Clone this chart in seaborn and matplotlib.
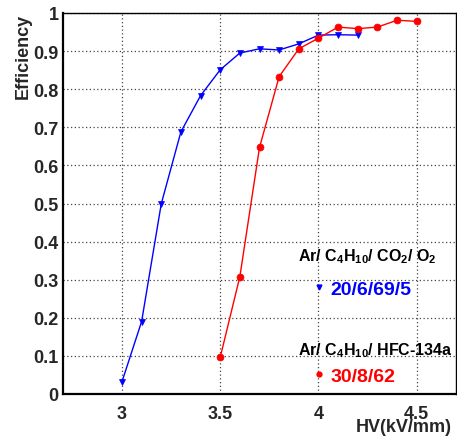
import matplotlib
matplotlib.use("Agg")
import matplotlib.pyplot as plt
from matplotlib.lines import Line2D
from matplotlib.ticker import MultipleLocator
import pandas as pd
import seaborn as sns

# ---- data ----
hv_a = [3.0, 3.1, 3.2, 3.3, 3.4, 3.5, 3.6, 3.7, 3.8, 3.9, 4.0, 4.1, 4.2]
eff_a = [0.032, 0.19, 0.499, 0.688, 0.783, 0.851, 0.895, 0.906, 0.903, 0.919, 0.942, 0.943, 0.942]
hv_b = [3.5, 3.6, 3.7, 3.8, 3.9, 4.0, 4.1, 4.2, 4.3, 4.4, 4.5]
eff_b = [0.096, 0.308, 0.647, 0.833, 0.906, 0.934, 0.963, 0.959, 0.963, 0.981, 0.978]
gas_a = "Ar/ C$_\\mathbf{4}$H$_\\mathbf{10}$/ CO$_\\mathbf{2}$/ O$_\\mathbf{2}$"
mix_a = "20/6/69/5"
gas_b = "Ar/ C$_\\mathbf{4}$H$_\\mathbf{10}$/ HFC-134a"
mix_b = "30/8/62"
x_ticks = [3.0, 3.5, 4.0, 4.5]
x_ticklabels = ["3", "3.5", "4", "4.5"]
y_ticks = [0, 0.1, 0.2, 0.3, 0.4, 0.5, 0.6, 0.7, 0.8, 0.9, 1.0]
y_ticklabels = ["0", "0.1", "0.2", "0.3", "0.4", "0.5", "0.6", "0.7", "0.8", "0.9", "1"]

sns.set_style("white")
plt.rcParams["font.family"] = ["Liberation Sans", "DejaVu Sans"]
plt.rcParams["font.weight"] = "bold"
plt.rcParams["mathtext.fontset"] = "custom"
plt.rcParams["mathtext.rm"] = "Liberation Sans:bold"
plt.rcParams["mathtext.bf"] = "Liberation Sans:bold"

W, H = 457, 439
fig = plt.figure(figsize=(W / 100, H / 100), dpi=100)
fig.patch.set_facecolor("white")
L, R, T, B = 63, 456, 14, 395
ax = fig.add_axes([L / W, 1 - B / H, (R - L) / W, (B - T) / H])

df_a = pd.DataFrame({"hv": hv_a, "eff": eff_a})
df_b = pd.DataFrame({"hv": hv_b, "eff": eff_b})

sns.lineplot(data=df_a, x="hv", y="eff", ax=ax, color="blue", linewidth=1.0,
             marker="v", markersize=5, markeredgecolor="blue", markerfacecolor="blue",
             markeredgewidth=0.5, zorder=4)
sns.lineplot(data=df_b, x="hv", y="eff", ax=ax, color="red", linewidth=1.0,
             marker="o", markersize=5, markeredgecolor="red", markerfacecolor="red",
             markeredgewidth=0.5, zorder=4)

ax.set_xlim(2.7, 4.7)
ax.set_ylim(0, 1)
ax.set_xticks(x_ticks)
ax.set_xticklabels(x_ticklabels)
ax.set_yticks(y_ticks)
ax.set_yticklabels(y_ticklabels)
ax.xaxis.set_minor_locator(MultipleLocator(0.1))
ax.yaxis.set_minor_locator(MultipleLocator(0.02))
ax.tick_params(axis="both", which="both", direction="in", top=False, right=False,
               color="black", width=1.0)
ax.tick_params(axis="both", which="major", length=7, labelsize=13)
ax.tick_params(axis="both", which="minor", length=4)
ax.tick_params(axis="y", which="major", pad=3)
ax.tick_params(axis="x", which="major", pad=8)
for lbl in ax.get_xticklabels() + ax.get_yticklabels():
    lbl.set_fontweight("bold")

ax.grid(True, which="major", color="#444444", linestyle=(0, (1, 2)), linewidth=0.9)
ax.set_axisbelow(True)
for s in ["left", "bottom"]:
    ax.spines[s].set_linewidth(1.6)
for s in ["top", "right"]:
    ax.spines[s].set_linewidth(1.0)
for s in ax.spines.values():
    s.set_color("black")

ax.set_xlabel("HV(kV/mm)", fontsize=13, fontweight="bold", loc="right")
ax.xaxis.set_label_coords((452 - L) / (R - L), (B - 419) / (B - T))
ax.set_ylabel("Efficiency", fontsize=13, fontweight="bold", loc="top")
ax.yaxis.set_label_coords((32 - L) / (R - L), 1.0)

# legend headers
ax.text((298 - L) / (R - L), (B - 257) / (B - T), gas_a, transform=ax.transAxes,
        fontsize=11.5, fontweight="bold", ha="left", va="center", color="black")
ax.text((298 - L) / (R - L), (B - 351) / (B - T), gas_b, transform=ax.transAxes,
        fontsize=11.5, fontweight="bold", ha="left", va="center", color="black")

# legend entries
h_a = Line2D([], [], linestyle="none", marker="v", color="blue", markersize=3.5)
h_b = Line2D([], [], linestyle="none", marker="o", color="red", markersize=3.5)
leg_a = ax.legend([h_a], [mix_a], loc="center left",
                  bbox_to_anchor=((313 - L) / (R - L), (B - 290) / (B - T)),
                  frameon=False, borderpad=0, borderaxespad=0, handlelength=0.6,
                  handletextpad=0.3, prop={"size": 14, "weight": "bold"})
for t in leg_a.get_texts():
    t.set_color("blue")
ax.add_artist(leg_a)
leg_b = ax.legend([h_b], [mix_b], loc="center left",
                  bbox_to_anchor=((313 - L) / (R - L), (B - 377) / (B - T)),
                  frameon=False, borderpad=0, borderaxespad=0, handlelength=0.6,
                  handletextpad=0.3, prop={"size": 14, "weight": "bold"})
for t in leg_b.get_texts():
    t.set_color("red")

fig.savefig("out.png", dpi=100, facecolor="white")
